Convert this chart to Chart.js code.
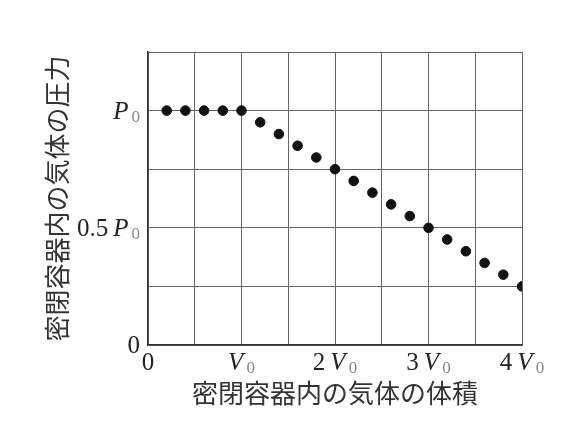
<!DOCTYPE html>
<html>
<head>
<meta charset="utf-8">
<script src="https://cdn.jsdelivr.net/npm/chart.js@4/dist/chart.umd.min.js"></script>
<style>
    html, body { margin: 0; padding: 0; background: #ffffff; }
    #wrap { width: 585px; height: 441px; }
</style>
</head>
<body>
<div id="wrap"><canvas id="chart" width="585" height="441"></canvas></div>
<script>
// ============================================================================
// Data
// ============================================================================

// volume in units of V0
const volumes = [0.2, 0.4, 0.6, 0.8, 1.0, 1.2, 1.4, 1.6, 1.8, 2.0, 2.2, 2.4, 2.6, 2.8, 3.0, 3.2, 3.4, 3.6, 3.8, 4.0];
// pressure in units of P0
const pressures = [1, 1, 1, 1, 1, 0.95, 0.9, 0.85, 0.8, 0.75, 0.7, 0.65, 0.6, 0.55, 0.5, 0.45, 0.4, 0.35, 0.3, 0.25];

const xTickValues = [0, 1, 2, 3, 4];
const xTickLabels = ['0', 'V_0', '2 V_0', '3 V_0', '4 V_0'];
const yTickValues = [0, 0.5, 1];
const yTickLabels = ['0', '0.5 P_0', 'P_0'];

const xTitle = '密閉容器内の気体の体積';
const yTitle = '密閉容器内の気体の圧力';

// ============================================================================
// Tick label drawing (coefficient + italic symbol + grey subscript)
// ============================================================================

const SERIF = '"Liberation Serif", "DejaVu Serif", serif';

function labelParts(text) {
    const parts = [];
    text.split(' ').forEach(tok => {
        if (tok.includes('_')) {
            const [sym, sub] = tok.split('_');
            parts.push({ t: sym, font: `italic 25px ${SERIF}`, color: '#222', dy: 0, gap: 0 });
            parts.push({ t: sub, font: `17px ${SERIF}`, color: '#888', dy: 3, gap: 3 });
        } else {
            parts.push({ t: tok, font: `25px ${SERIF}`, color: '#222', dy: 0, gap: 0 });
        }
    });
    // small space between a coefficient and the symbol
    for (let i = 1; i < parts.length; i++) {
        if (parts[i].font.startsWith('italic')) parts[i].gap = 5;
    }
    return parts;
}

function drawLabel(ctx, text, x, y, align) {
    const parts = labelParts(text);
    let total = 0;
    parts.forEach(p => {
        ctx.font = p.font;
        p.w = ctx.measureText(p.t).width;
        total += p.gap + p.w;
    });
    let cx = align === 'right' ? x - total : x - total / 2;
    ctx.textBaseline = 'alphabetic';
    ctx.textAlign = 'left';
    parts.forEach(p => {
        cx += p.gap;
        ctx.font = p.font;
        ctx.fillStyle = p.color;
        ctx.fillText(p.t, cx, y + p.dy);
        cx += p.w;
    });
}

const tickLabelPlugin = {
    id: 'tickLabels',
    afterDraw(chart) {
        const ctx = chart.ctx;
        const xs = chart.scales.x;
        const ys = chart.scales.y;
        ctx.save();
        xTickValues.forEach((v, i) => {
            drawLabel(ctx, xTickLabels[i], xs.getPixelForValue(v), ys.bottom + 25, 'center');
        });
        yTickValues.forEach((v, i) => {
            drawLabel(ctx, yTickLabels[i], xs.left - 8, ys.getPixelForValue(v) + 8, 'right');
        });
        ctx.restore();
    }
};

// ============================================================================
// Chart
// ============================================================================

new Chart(document.getElementById('chart'), {
    type: 'scatter',
    data: {
        datasets: [{
            data: volumes.map((v, i) => ({ x: v, y: pressures[i] })),
            backgroundColor: '#111',
            borderColor: '#111',
            pointRadius: 4.8,
            pointHoverRadius: 4.8
        }]
    },
    options: {
        responsive: false,
        animation: false,
        events: [],
        layout: { padding: { left: 38, right: 63, top: 52, bottom: 28 } },
        plugins: {
            legend: { display: false },
            tooltip: { enabled: false }
        },
        scales: {
            x: {
                type: 'linear',
                min: 0,
                max: 4,
                afterFit: s => { s.height = 68; },
                ticks: { display: false, stepSize: 0.5 },
                grid: { color: '#666', lineWidth: 1, drawTicks: false },
                border: { color: '#333', width: 1.5 },
                title: {
                    display: true,
                    text: xTitle,
                    color: '#333',
                    font: { family: '"Noto Sans CJK JP"', size: 26, weight: '400' },
                    padding: { top: 4, bottom: 4 }
                }
            },
            y: {
                type: 'linear',
                min: 0,
                max: 1.25,
                afterFit: s => { s.width = 110; },
                ticks: { display: false, stepSize: 0.25 },
                grid: { color: '#666', lineWidth: 1, drawTicks: false },
                border: { color: '#333', width: 1.5 },
                title: {
                    display: true,
                    text: yTitle,
                    color: '#333',
                    font: { family: '"Noto Sans CJK JP"', size: 26, weight: '400' },
                    padding: { top: 4, bottom: 4 }
                }
            }
        }
    },
    plugins: [tickLabelPlugin]
});
</script>
</body>
</html>
